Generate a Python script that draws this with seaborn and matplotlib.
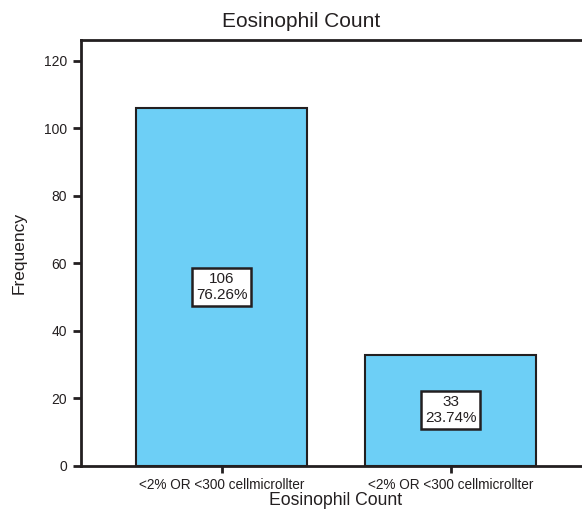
import numpy as np
import pandas as pd
import matplotlib
matplotlib.use("Agg")
import matplotlib.pyplot as plt
import seaborn as sns

# data
categories = ["<2% OR <300 cellmicrollter", "<2% OR <300 cellmicrollter"]
counts = [106, 33]
yticks = [0, 20, 40, 60, 80, 100, 120]

sns.set_style("ticks")
plt.rcParams['font.family'] = ['Liberation Sans', 'DejaVu Sans']

total = sum(counts)
percents = [c / total * 100 for c in counts]
df = pd.DataFrame({"idx": [str(i) for i in range(len(counts))], "count": counts})

ink = "#231f20"

fig = plt.figure(figsize=(5.82, 5.12), dpi=100)
ax = fig.add_axes([0.139, 0.09, 0.875, 0.832])

sns.barplot(data=df, x="idx", y="count", color="#6dcff6", saturation=1,
            width=0.747, edgecolor=ink, linewidth=1.5, ax=ax)

for i, (c, p) in enumerate(zip(counts, percents)):
    ax.text(i, c / 2, f"{c}\n{p:.2f}%", ha="center", va="center", fontsize=11,
            color=ink, linespacing=1.2,
            bbox=dict(boxstyle="square,pad=0.25", fc="white", ec=ink, lw=1.8))

ax.set_xlim(-0.616, 1.61)
ax.set_ylim(0, 126.2)
ax.set_yticks(yticks)
ax.set_xticks(range(len(categories)))
ax.set_xticklabels(categories, fontsize=9.8, color=ink)
ax.tick_params(axis="y", labelsize=10, length=6, width=2, color=ink, labelcolor=ink, pad=4)
ax.tick_params(axis="x", length=5, width=2, color=ink, pad=4)

for s in ax.spines.values():
    s.set_linewidth(2)
    s.set_color(ink)

ax.set_title("Eosinophil Count", fontsize=15, color=ink, pad=9, x=0.432)
ax.set_xlabel("Eosinophil Count", fontsize=12.7, color=ink, labelpad=0)
ax.set_ylabel("Frequency", fontsize=12.5, color=ink, labelpad=12)

fig.savefig("out.png", dpi=100)
plt.close(fig)
